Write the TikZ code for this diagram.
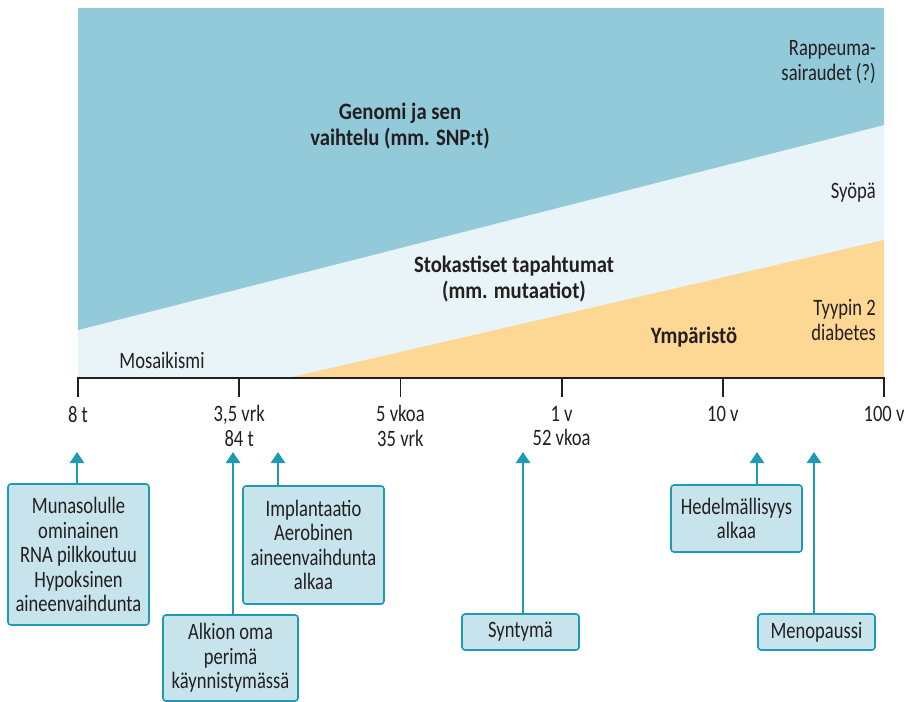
\documentclass[tikz,border=0pt]{standalone}
\usepackage{fontspec}
\setmainfont{Carlito}[FakeStretch=0.79, BoldFeatures={FakeStretch=0.88}]
\usetikzlibrary{arrows.meta}
\definecolor{genblue}{HTML}{93CAD9}
\definecolor{stolight}{HTML}{E8F4F7}
\definecolor{envorange}{HTML}{FDD794}
\definecolor{boxfill}{HTML}{C7E4EC}
\definecolor{boxline}{HTML}{1E9AB3}
\definecolor{txt}{HTML}{231F20}
\tikzset{
  evbox/.style={draw=boxline, line width=1.6pt, fill=boxfill, rounded corners=3pt, inner sep=0pt, align=center, text=txt, font=\fontsize{23.5}{24.5}\selectfont},
  evarrow/.style={draw=boxline, line width=2.6pt, -{Triangle[width=14pt,length=11pt]}},
  lbl/.style={text=txt, font=\fontsize{23.5}{24.5}\selectfont, inner sep=0pt},
  blbl/.style={text=txt, font=\bfseries\fontsize{23.5}{26}\selectfont, inner sep=0pt, align=center},
  tick/.style={draw=txt, line width=1.8pt}
}
\begin{document}
\begin{tikzpicture}[x=1pt,y=-1pt]
\useasboundingbox (0,0) rectangle (909,701);
% regions
\fill[stolight] (78,8) rectangle (884,378);
\fill[genblue] (78,8) -- (884,8) -- (884,125) -- (78,330) -- cycle;
\fill[envorange] (288,378) -- (884,240) -- (884,378) -- cycle;
% region labels
\node[blbl] (gen) at (400,126) {Genomi ja sen\\vaihtelu (mm. SNP:t)};
\node[blbl] (sto) at (514,279) {Stokastiset tapahtumat\\(mm. mutaatiot)};
\node[blbl] (env) at (694,337) {Ympäristö};
\node[lbl, align=right, anchor=east] (rap) at (876,62) {Rappeuma-\\sairaudet (?)};
\node[lbl, anchor=east] (syo) at (876,193) {Syöpä};
\node[lbl, align=right, anchor=east] (dia) at (876,320) {Tyypin 2\\diabetes};
\node[lbl] (mos) at (162,360) {Mosaikismi};
% axis
\coordinate (a0) at (78,378);
\coordinate (a5) at (884,378);
\draw[tick, line cap=rect] (a0) -- (a5);
\foreach \i/\x in {0/78,1/239.2,2/400.4,3/561.6,4/722.8,5/884}{
  \coordinate (k\i) at (\x,378);
  \coordinate (kb\i) at (\x,397);
  \draw[tick] (k\i) -- (kb\i);
}
\node[lbl, align=center, anchor=north] (l0) at (78,406) {8 t};
\node[lbl, align=center, anchor=north] (l1) at (239.2,405) {3,5 vrk\\84 t};
\node[lbl, align=center, anchor=north] (l2) at (400.4,405) {5 vkoa\\35 vrk};
\node[lbl, align=center, anchor=north] (l3) at (561.6,406) {1 v\\52 vkoa};
\node[lbl, align=center, anchor=north] (l4) at (722.8,406) {10 v};
\node[lbl, align=center, anchor=north] (l5) at (884,406) {100 v};
% event boxes
\node[evbox, minimum width=141pt, minimum height=141pt] (b1) at (78.5,554.5) {Munasolulle\\ominainen\\RNA pilkkoutuu\\Hypoksinen\\aineenvaihdunta};
\node[evbox, minimum width=141pt, minimum height=118pt] (b2) at (313.5,545) {Implantaatio\\Aerobinen\\aineenvaihdunta\\alkaa};
\node[evbox, minimum width=135pt, minimum height=86pt] (b3) at (230.5,658) {Alkion oma\\perimä\\käynnistymässä};
\node[evbox, minimum width=117pt, minimum height=36pt] (b4) at (520.5,632) {Syntymä};
\node[evbox, minimum width=131pt, minimum height=67pt] (b5) at (736.5,518.5) {Hedelmällisyys\\alkaa};
\node[evbox, minimum width=117pt, minimum height=36pt] (b6) at (816.5,632) {Menopaussi};
% arrow tips
\coordinate (t1) at (77,452);
\coordinate (t2) at (278,452);
\coordinate (t3) at (233,452);
\coordinate (t4) at (523,452);
\coordinate (t5) at (757,452);
\coordinate (t6) at (814,452);
\draw[evarrow] (b1.north -| t1) -- (t1);
\draw[evarrow] (b2.north -| t2) -- (t2);
\draw[evarrow] (b3.north -| t3) -- (t3);
\draw[evarrow] (b4.north -| t4) -- (t4);
\draw[evarrow] (b5.north -| t5) -- (t5);
\draw[evarrow] (b6.north -| t6) -- (t6);
\end{tikzpicture}
\end{document}
